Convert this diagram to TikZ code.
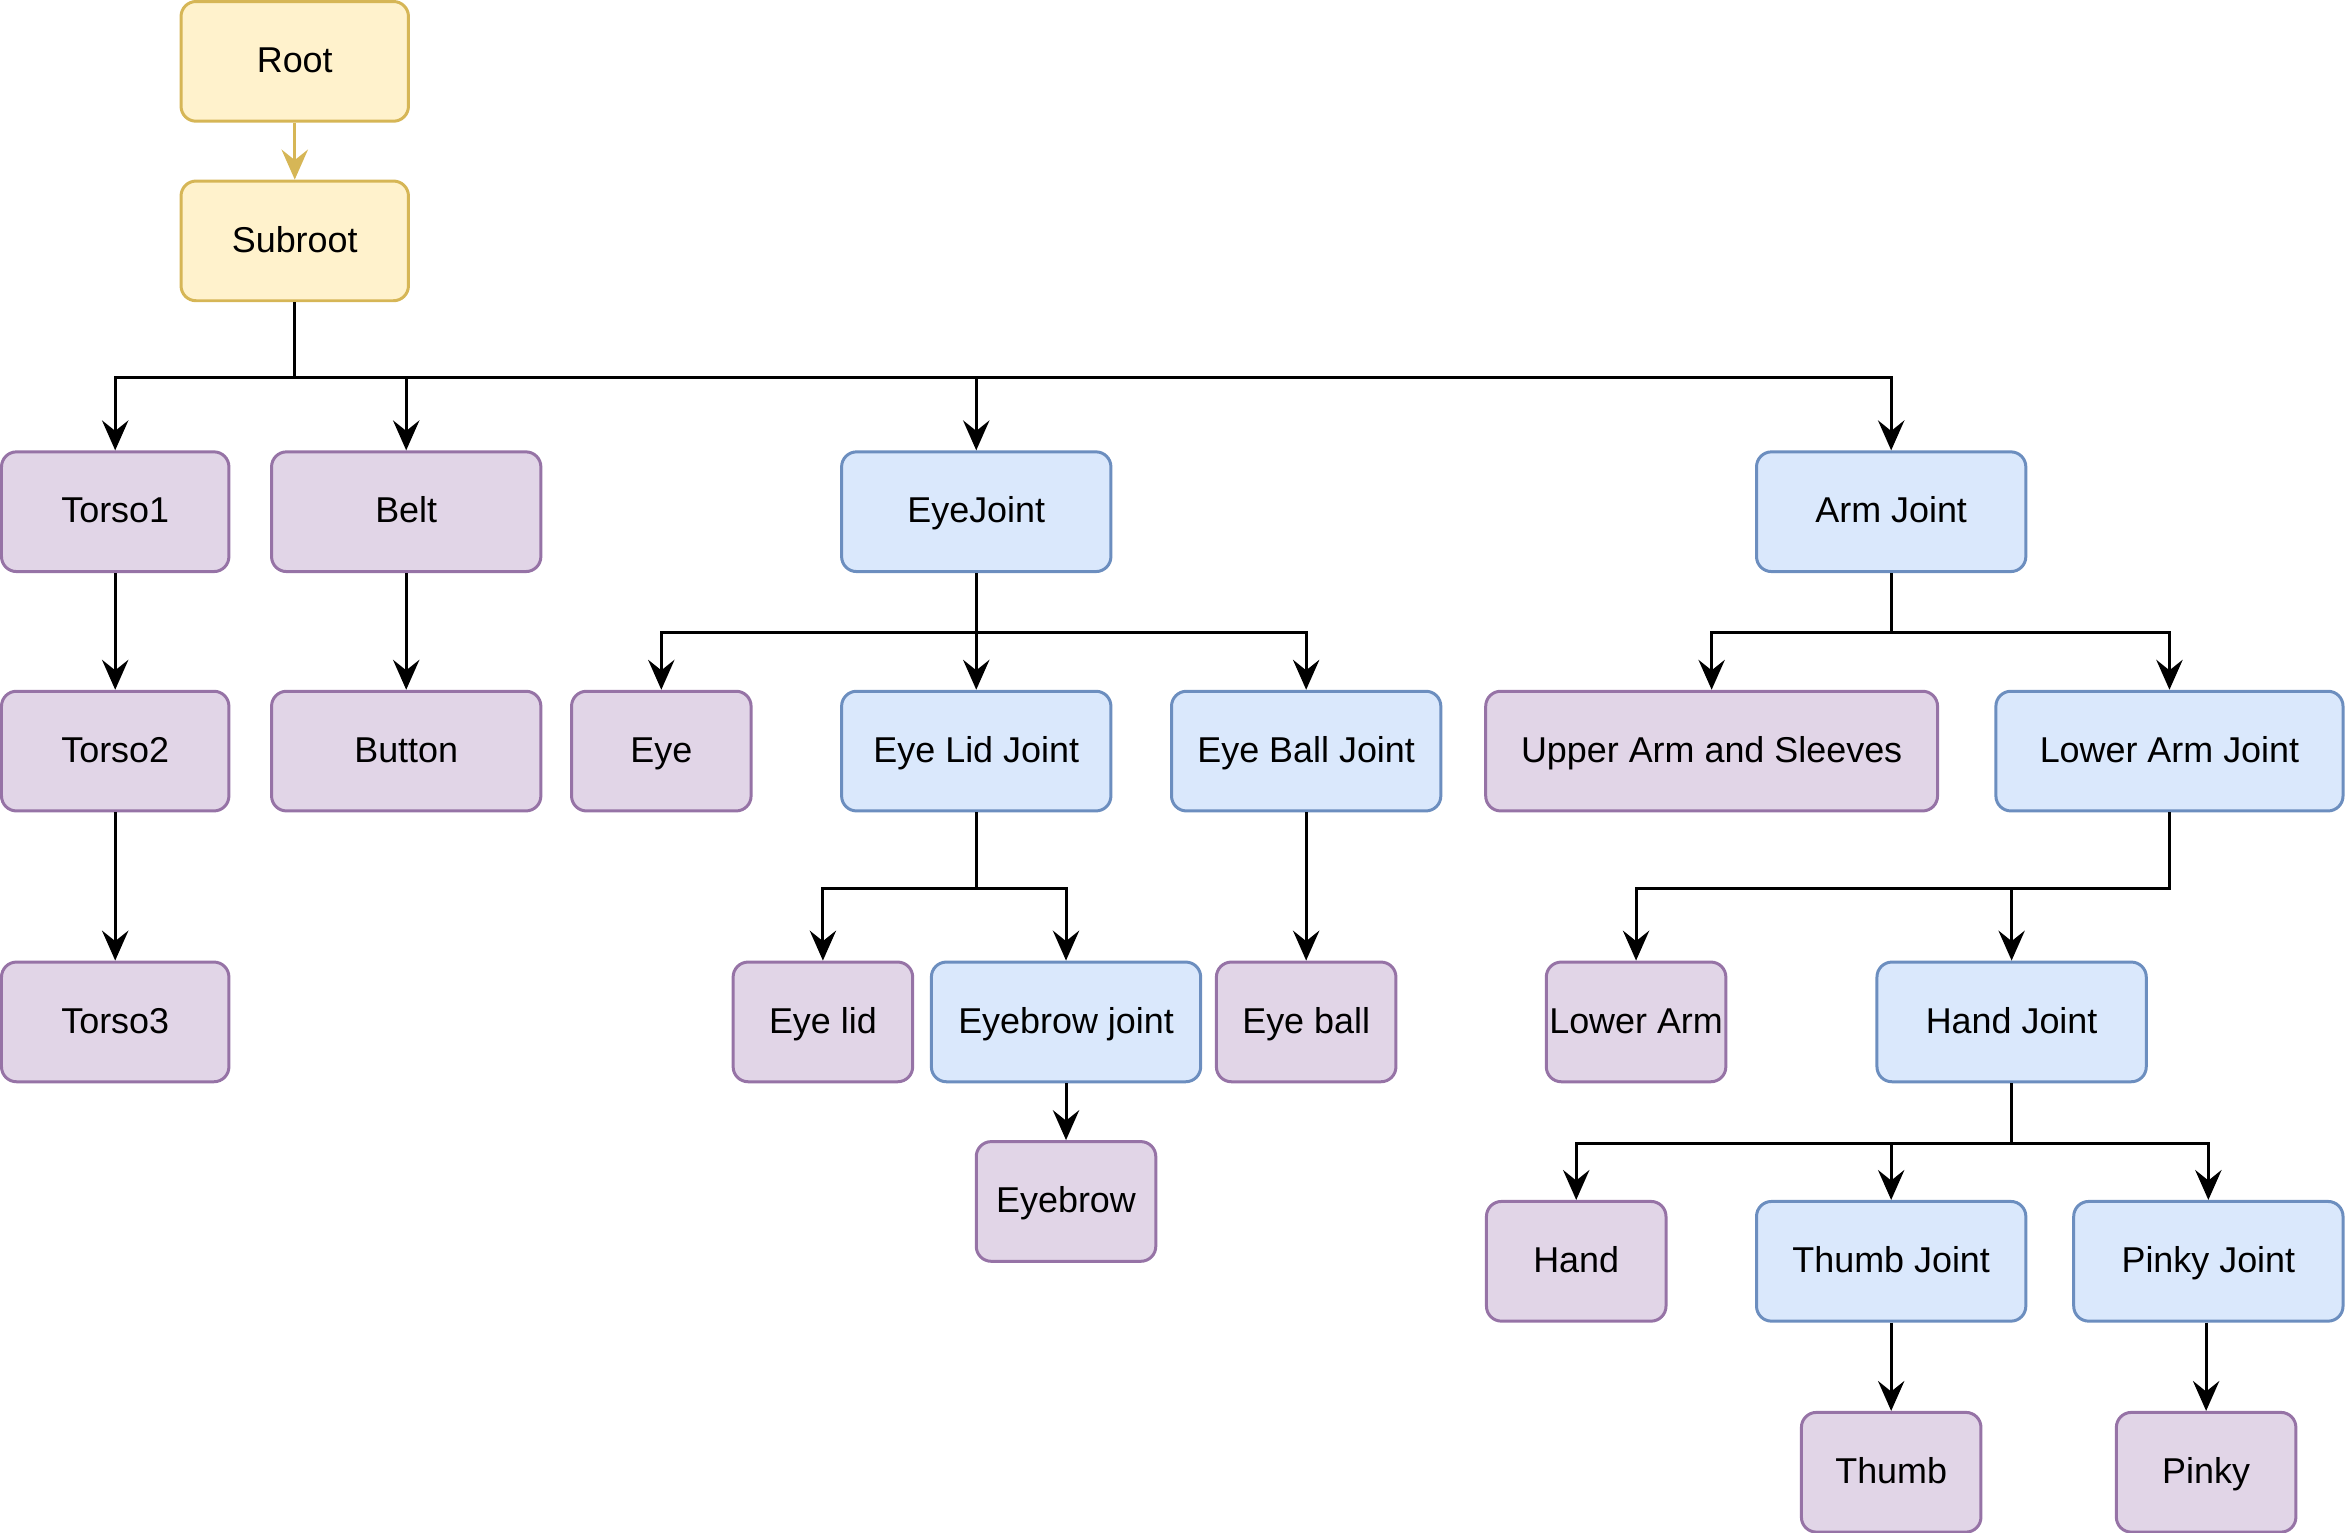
\documentclass[tikz,border=0pt]{standalone}
\usepackage{fontspec}
\setmainfont{Liberation Sans}
\usetikzlibrary{arrows.meta}
\definecolor{yfill}{HTML}{FFF2CC}
\definecolor{ydraw}{HTML}{D6B656}
\definecolor{pfill}{HTML}{E1D5E7}
\definecolor{pdraw}{HTML}{9673A6}
\definecolor{bfill}{HTML}{DAE8FC}
\definecolor{bdraw}{HTML}{6C8EBF}
\tikzset{
  box/.style={rectangle, rounded corners=5pt, line width=1pt, minimum height=40pt, inner sep=0pt, text height=10pt, text depth=2.5pt, align=center, font=\fontsize{12}{14}\selectfont},
  ybox/.style={box, fill=yfill, draw=ydraw},
  pbox/.style={box, fill=pfill, draw=pdraw},
  bbox/.style={box, fill=bfill, draw=bdraw},
  wS/.style={minimum width=76pt},
  wM/.style={minimum width=90pt},
  wN/.style={minimum width=60pt},
  edge/.style={line width=1pt, draw=black, -{Stealth[length=10pt,width=8.8pt,inset=3.5pt]}},
  yedge/.style={edge, draw=ydraw, color=ydraw},
}
\begin{document}
\begin{tikzpicture}[x=0.5pt,y=-0.5pt]
\useasboundingbox (0,0) rectangle (1568,1024.6);
% row 0
\node[ybox,wS] (root) at (197,41) {Root};
\node[ybox,wS] (sub) at (197,161) {Subroot};
% row 1
\node[pbox,wS] (t1) at (77,342) {Torso1};
\node[pbox,wM] (belt) at (271.5,342) {Belt};
\node[bbox,wM] (ej) at (652.5,342) {EyeJoint};
\node[bbox,wM] (aj) at (1264,342) {Arm Joint};
% row 2
\node[pbox,wS] (t2) at (77,502) {Torso2};
\node[pbox,wM] (btn) at (271.5,502) {Button};
\node[pbox,wN] (eye) at (442,502) {Eye};
\node[bbox,wM] (elj) at (652.5,502) {Eye Lid Joint};
\node[bbox,wM] (ebj) at (873,502) {Eye Ball Joint};
\node[pbox,minimum width=151pt] (ua) at (1144,502) {Upper Arm and Sleeves};
\node[bbox,minimum width=116pt] (laj) at (1450,502) {Lower Arm Joint};
% row 3
\node[pbox,wS] (t3) at (77,683) {Torso3};
\node[pbox,wN] (elid) at (550,683) {Eye lid};
\node[bbox,wM] (ebrj) at (712.5,683) {Eyebrow joint};
\node[pbox,wN] (eball) at (873,683) {Eye ball};
\node[pbox,wN] (la) at (1093.5,683) {Lower Arm};
\node[bbox,wM] (hj) at (1344.5,683) {Hand Joint};
% row 4
\node[pbox,wN] (ebrow) at (712.5,803) {Eyebrow};
\node[pbox,wN] (hand) at (1053.5,843) {Hand};
\node[bbox,wM] (tj) at (1264,843) {Thumb Joint};
\node[bbox,wM] (pj) at (1476,843) {Pinky Joint};
% row 5
\node[pbox,wN] (thumb) at (1264,984) {Thumb};
\node[pbox,wN] (pinky) at (1474.5,984) {Pinky};
% edges
\draw[yedge] (root) -- (sub);
\foreach \n in {t1,belt,ej,aj} \draw[edge] (sub.south) -- ++(0,50) -| (\n.north);
\draw[edge] (t1) -- (t2);
\draw[edge] (t2) -- (t3);
\draw[edge] (belt) -- (btn);
\foreach \n in {eye,elj,ebj} \draw[edge] (ej.south) -- ++(0,40) -| (\n.north);
\foreach \n in {ua,laj} \draw[edge] (aj.south) -- ++(0,40) -| (\n.north);
\foreach \n in {elid,ebrj} \draw[edge] (elj.south) -- ++(0,51) -| (\n.north);
\draw[edge] (ebj) -- (eball);
\draw[edge] (ebrj) -- (ebrow);
\foreach \n in {la,hj} \draw[edge] (laj.south) -- ++(0,51) -| (\n.north);
\foreach \n in {hand,tj,pj} \draw[edge] (hj.south) -- ++(0,40) -| (\n.north);
\draw[edge] (tj) -- (thumb);
\draw[edge] (pj.south -| pinky.north) -- (pinky.north);
\end{tikzpicture}
\end{document}
